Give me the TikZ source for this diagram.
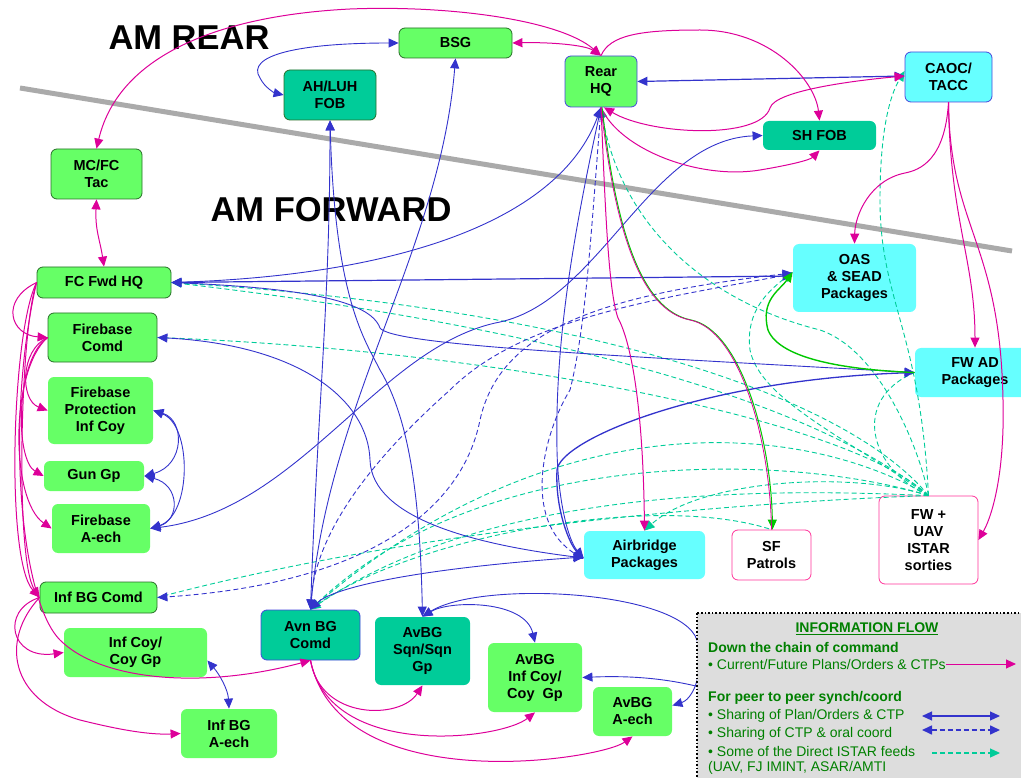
\documentclass[tikz,border=0pt]{standalone}
\usepackage{fontspec}
\setmainfont{Liberation Sans}
\usetikzlibrary{arrows.meta}
\definecolor{ngreen}{RGB}{102,255,102}
\definecolor{nteal}{RGB}{0,204,153}
\definecolor{ncyan}{RGB}{102,255,255}
\definecolor{dkgreen}{RGB}{40,110,40}
\definecolor{bedge}{RGB}{70,70,220}
\definecolor{mag}{RGB}{221,0,153}
\definecolor{blu}{RGB}{51,51,204}
\definecolor{istar}{RGB}{0,204,153}
\definecolor{grn}{RGB}{0,200,0}
\definecolor{pinkb}{RGB}{255,51,153}
\definecolor{legtxt}{RGB}{0,128,0}
\definecolor{legfill}{RGB}{221,221,221}
\definecolor{divider}{RGB}{170,170,170}
\tikzset{
  box/.style={rounded corners=6pt, align=center, inner sep=0pt, line width=0.8pt,
    font=\bfseries\fontsize{14.5}{17}\selectfont},
  title/.style={font=\bfseries\fontsize{34.5}{38}\selectfont, inner sep=0pt},
  mline/.style={draw=mag, line width=1pt},
  bline/.style={draw=blu, line width=0.9pt},
  bdash/.style={bline, dash pattern=on 5pt off 3pt},
  tdash/.style={draw=istar, line width=0.9pt, dash pattern=on 5pt off 3pt},
  gline/.style={draw=grn, line width=1.4pt},
  legbold/.style={font=\bfseries\fontsize{14}{17}\selectfont, text=legtxt, inner sep=0pt, anchor=west},
  legtext/.style={font=\fontsize{14}{17}\selectfont, text=legtxt, inner sep=0pt, anchor=west},
}
\begin{document}
\begin{tikzpicture}[x=1pt, y=-1pt, >={Triangle[length=10pt,width=9pt]}]
\useasboundingbox (0,0) rectangle (1021,778);

% dividing line between rear and forward areas
\draw[divider, line width=5pt] (20,88) -- (1012,251);
\node[title] (rear-title) at (189,38) {AM REAR};
\node[title] (fwd-title) at (331,210) {AM FORWARD};

% ---------- headquarters and units ----------
\node[box, fill=ngreen, draw=dkgreen, minimum width=113pt, minimum height=30pt] (bsg) at (455.5,43) {BSG};
\node[box, fill=nteal, draw=dkgreen, minimum width=92pt, minimum height=50pt] (ahluh) at (330,95) {AH/LUH\\FOB};
\node[box, fill=ngreen, draw=bedge, minimum width=72pt, minimum height=51pt] (rear) at (601,81.5) {Rear\\HQ};
\node[box, fill=ncyan, draw=bedge, minimum width=87pt, minimum height=50pt] (caoc) at (948.5,77) {CAOC/\\TACC};
\node[box, fill=nteal, draw=none, minimum width=113pt, minimum height=29pt] (shfob) at (819.5,135.5) {SH FOB};
\node[box, fill=ngreen, draw=dkgreen, minimum width=91pt, minimum height=50pt] (mcfc) at (96.5,174) {MC/FC\\Tac};
\node[box, fill=ngreen, draw=dkgreen, minimum width=134pt, minimum height=31pt] (fcfwd) at (104,282.5) {FC Fwd HQ};
\node[box, fill=ngreen, draw=dkgreen, minimum width=109pt, minimum height=49pt] (fbcomd) at (102.5,337.5) {Firebase\\Comd};
\node[box, fill=ngreen, draw=none, minimum width=105pt, minimum height=67pt] (fbprot) at (100.5,410.5) {Firebase\\Protection\\Inf Coy};
\node[box, fill=ngreen, draw=none, minimum width=100pt, minimum height=30pt] (gungp) at (94,476) {Gun Gp};
\node[box, fill=ngreen, draw=none, minimum width=98pt, minimum height=49pt] (fbaech) at (101,528.5) {Firebase\\A-ech};
\node[box, fill=ngreen, draw=dkgreen, minimum width=117pt, minimum height=31pt] (infbg) at (98.5,597.5) {Inf BG Comd};
\node[box, fill=ngreen, draw=none, minimum width=143pt, minimum height=49pt] (infcoy) at (135.5,652.5) {Inf Coy/\\Coy Gp};
\node[box, fill=ngreen, draw=none, minimum width=96pt, minimum height=49pt] (infaech) at (229,733.5) {Inf BG\\A-ech};
\node[box, fill=nteal, draw=bedge, minimum width=99pt, minimum height=50pt] (avncomd) at (310.5,635) {Avn BG\\Comd};
\node[box, fill=nteal, draw=none, minimum width=95pt, minimum height=68pt] (sqn) at (422.5,651) {AvBG\\Sqn/Sqn\\Gp};
\node[box, fill=ngreen, draw=none, minimum width=94pt, minimum height=69pt] (avinfcoy) at (535,677.5) {AvBG\\Inf Coy/\\Coy\ \ Gp};
\node[box, fill=ngreen, draw=none, minimum width=79pt, minimum height=49pt] (avaech) at (632.5,711.5) {AvBG\\A-ech};
\node[box, fill=ncyan, draw=none, minimum width=121pt, minimum height=48pt] (airbridge) at (644.5,555) {Airbridge\\Packages};
\node[box, fill=white, draw=pinkb, minimum width=79pt, minimum height=50pt] (sf) at (771.5,555) {SF\\Patrols};
\node[box, fill=white, draw=pinkb, minimum width=99pt, minimum height=88pt] (istar) at (928.5,540) {FW +\\UAV\\ISTAR\\sorties};
\node[box, fill=ncyan, draw=none, minimum width=123pt, minimum height=68pt] (oas) at (854.5,278) {OAS\\\& SEAD\\Packages};
\node[box, fill=ncyan, draw=none, minimum width=120pt, minimum height=49pt] (fwad) at (975,372.5) {FW AD\\Packages};

% ---------- direct ISTAR feeds ----------
\draw[tdash, ->] (istar.north) .. controls (920,330) and (880,300) .. (880,200) .. controls (880,130) and (890,95) .. ([yshift=6pt]caoc.west);
\draw[tdash, ->] (istar.north) .. controls (920,450) and (880,350) .. (820,330) .. controls (700,300) and (620,220) .. (rear.south);
\draw[tdash, ->] (istar.north) .. controls (850,400) and (600,310) .. (fcfwd.east);
\draw[tdash] (istar.north) .. controls (800,390) and (500,320) .. (fcfwd.east);
\draw[tdash] (istar.north) .. controls (850,420) and (500,350) .. (fbcomd.east);
\draw[tdash, ->] (istar.north) .. controls (850,440) and (760,400) .. (750,350) .. controls (745,310) and (770,290) .. ([yshift=6pt]oas.west);
\draw[tdash] (istar.north) .. controls (870,470) and (850,400) .. (fwad.west);
\draw[tdash, ->] (istar.north) .. controls (850,470) and (700,480) .. (airbridge.north);
\draw[tdash] (istar.north) .. controls (800,420) and (550,400) .. (avncomd.north);
\draw[tdash] (istar.north) .. controls (800,455) and (480,440) .. (avncomd.north);
\draw[tdash, ->] (istar.north) .. controls (800,490) and (500,480) .. (avncomd.north);
\draw[tdash] (istar.north) .. controls (800,500) and (450,520) .. (infbg.east);
\draw[tdash] (avncomd.north) .. controls (400,540) and (650,490) .. (sf.north);

% ---------- peer to peer sharing (solid) ----------
\draw[bline, <->] (bsg.west) .. controls (300,43) and (245,55) .. (260,78) .. controls (265,88) and (275,93) .. (ahluh.west);
\draw[bline, <->, line width=1.2pt] (rear.east) -- ([yshift=1pt]caoc.west);
\draw[bline, <->] (ahluh.south) .. controls (330,300) and (318,400) .. (avncomd.north);
\draw[bline, <->] (ahluh.south) .. controls (335,300) and (365,340) .. (380,370) .. controls (410,420) and (420,500) .. (sqn.north);
\draw[bline, <->] (bsg.south) .. controls (440,250) and (330,400) .. (avncomd.north);
\draw[bline, <->] (rear.south) .. controls (560,220) and (400,275) .. (fcfwd.east);
\draw[bline, <->] (rear.south) .. controls (570,250) and (555,350) .. (557,450) .. controls (558,500) and (568,540) .. ([yshift=-3pt]airbridge.west);
\draw[bline, <->] (shfob.west) .. controls (650,140) and (600,300) .. (500,322) .. controls (380,345) and (300,510) .. (fbaech.east);
\draw[bline, <->, line width=1.2pt] (fcfwd.east) -- ([yshift=2pt]oas.west);
\draw[bline, <->] (fcfwd.east) .. controls (300,288) and (370,300) .. (380,328) .. controls (392,345) and (600,355) .. (fwad.west);
\draw[bline, <->] (fbcomd.east) .. controls (300,345) and (368,400) .. (370,460) .. controls (372,520) and (480,545) .. ([yshift=-3pt]airbridge.west);
\draw[bline, <->] (fbprot.east) .. controls (185,420) and (185,465) .. (gungp.east);
\draw[bline, <->] (gungp.east) .. controls (180,485) and (180,520) .. (fbaech.east);
\draw[bline, <->] (fbprot.east) .. controls (192,425) and (192,515) .. (fbaech.east);
\draw[bline, <->] (avncomd.north) .. controls (330,590) and (400,570) .. ([yshift=-2pt]airbridge.west);
\draw[bline, <->, line width=1.3pt] (fwad.west) .. controls (700,380) and (560,440) .. (557,470) .. controls (555,510) and (570,545) .. ([yshift=-3pt]airbridge.west);
\draw[bline, <->] (sqn.north) .. controls (450,600) and (525,600) .. (avinfcoy.north);
\draw[bline, <->] (sqn.north) .. controls (480,580) and (680,590) .. (697,640) .. controls (705,680) and (690,700) .. ([yshift=6pt]avaech.east);
\coordinate (avlink) at (740,700);
\draw[bline, ->] (avlink) .. controls (690,680) and (640,675) .. (avinfcoy.east);
\draw[bline, <->] ([yshift=-8pt]infcoy.east) .. controls (220,675) and (228,690) .. (infaech.north);

% ---------- peer to peer sharing (CTP and oral) ----------
\draw[bdash, <->] (rear.south) .. controls (590,250) and (585,330) .. (570,390) .. controls (545,430) and (520,520) .. ([yshift=-4pt]airbridge.west);
\draw[bdash, <->] ([yshift=4pt]oas.west) .. controls (650,300) and (520,320) .. (450,390) .. controls (360,470) and (315,540) .. (avncomd.north);
\draw[bdash, <->] ([yshift=5pt]oas.west) .. controls (600,295) and (500,330) .. (480,420) .. controls (460,520) and (350,585) .. (infbg.east);

% ---------- chain of command ----------
\draw[mline, <->] (rear.north) .. controls (560,20) and (450,5) .. (350,9) .. controls (230,15) and (120,50) .. (mcfc.north);
\draw[mline, <->] (bsg.east) .. controls (550,42) and (585,45) .. (rear.north);
\draw[mline, ->] (rear.north) .. controls (610,35) and (640,30) .. (700,30) .. controls (770,30) and (815,80) .. (shfob.north);
\draw[mline, <->] ([xshift=3pt]rear.south) .. controls (650,135) and (760,140) .. (770,108) .. controls (775,90) and (860,80) .. ([yshift=1pt]caoc.west);
\draw[mline, ->] (rear.south) .. controls (620,150) and (700,180) .. (760,170) .. controls (790,165) and (810,160) .. (shfob.south);
\draw[mline, ->] (caoc.south) .. controls (945,160) and (920,170) .. (905,173) .. controls (870,180) and (855,215) .. (oas.north);
\draw[mline, ->] (caoc.south) .. controls (950,220) and (975,260) .. (fwad.north);
\draw[mline, ->] (caoc.south) .. controls (950,230) and (1000,240) .. (1003,400) .. controls (1005,480) and (990,520) .. (istar.east);
\draw[mline, ->] (rear.south) .. controls (605,200) and (608,290) .. (618,318) .. controls (630,340) and (643,400) .. (airbridge.north);
\draw[gline, line width=1pt, ->] ([xshift=1pt]rear.south) .. controls (616,230) and (641,310) .. (691,320) .. controls (741,330) and (771,440) .. ([xshift=1pt]sf.north);
\draw[mline, line width=0.8pt] (rear.south) .. controls (615,230) and (640,310) .. (690,320) .. controls (740,330) and (770,440) .. (sf.north);
\draw[gline, ->] (fwad.west) .. controls (850,370) and (780,360) .. (768,330) .. controls (760,300) and (780,290) .. ([yshift=6pt]oas.west);
\draw[mline, <->] (mcfc.south) .. controls (95,230) and (100,240) .. (fcfwd.north);
\draw[mline, ->] (fcfwd.west) .. controls (0,300) and (10,335) .. (fbcomd.west);
\draw[mline, ->] (fbcomd.west) .. controls (20,350) and (20,400) .. (fbprot.west);
\draw[mline, ->] (fbcomd.west) .. controls (15,360) and (15,460) .. (gungp.west);
\draw[mline, ->] (fbcomd.west) .. controls (10,370) and (10,500) .. (fbaech.west);
\draw[mline, ->] (fcfwd.west) .. controls (12,330) and (5,560) .. (infbg.west);
\draw[mline, ->] (fcfwd.west) .. controls (20,330) and (15,560) .. (infbg.west);
\draw[mline, ->] (fcfwd.west) .. controls (5,420) and (20,600) .. (60,640) .. controls (100,680) and (200,690) .. (avncomd.south);
\draw[mline, ->] (infbg.west) .. controls (0,610) and (10,660) .. (infcoy.west);
\draw[mline, ->] (infbg.west) .. controls (0,640) and (10,700) .. (80,720) .. controls (120,730) and (150,735) .. (infaech.west);
\draw[mline, ->] (avncomd.south) .. controls (320,720) and (400,720) .. (sqn.south);
\draw[mline, ->] (avncomd.south) .. controls (330,760) and (500,740) .. (avinfcoy.south);
\draw[mline, ->] (avncomd.south) .. controls (340,800) and (600,760) .. (avaech.south);

% ---------- legend ----------
\draw[fill=legfill, draw=black, dotted, line width=1.6pt] (697,613) rectangle (1030,785);
\node[legbold, anchor=center] (leg-title) at (867,629) {\underline{INFORMATION FLOW}};
\node[legbold] (leg-down) at (708,647) {Down the chain of command};
\node[legtext] (leg-plans) at (708,664) {• Current/Future Plans/Orders \& CTPs};
\node[legbold] (leg-peer) at (708,698) {For peer to peer synch/coord};
\node[legtext] (leg-share) at (708,716) {• Sharing of Plan/Orders \& CTP};
\node[legtext] (leg-oral) at (708,734) {• Sharing of CTP \& oral coord};
\node[legtext] (leg-feeds) at (708,751) {• Some of the Direct ISTAR feeds};
\node[legtext] (leg-sources) at (708,768) {(UAV, FJ IMINT, ASAR/AMTI};
\coordinate (k1) at (1016,664);
\coordinate (k2a) at (922,716); \coordinate (k2b) at (1000,716);
\coordinate (k3a) at (922,730); \coordinate (k3b) at (1000,730);
\coordinate (k4a) at (932,753); \coordinate (k4b) at (1000,753);
\draw[mline, ->] (leg-plans.east) -- (k1);
\draw[bline, <->, line width=1.2pt] (k2a) -- (k2b);
\draw[bdash, <->, line width=1.6pt] (k3a) -- (k3b);
\draw[tdash, ->, line width=1.2pt] (k4a) -- (k4b);
\end{tikzpicture}
\end{document}
